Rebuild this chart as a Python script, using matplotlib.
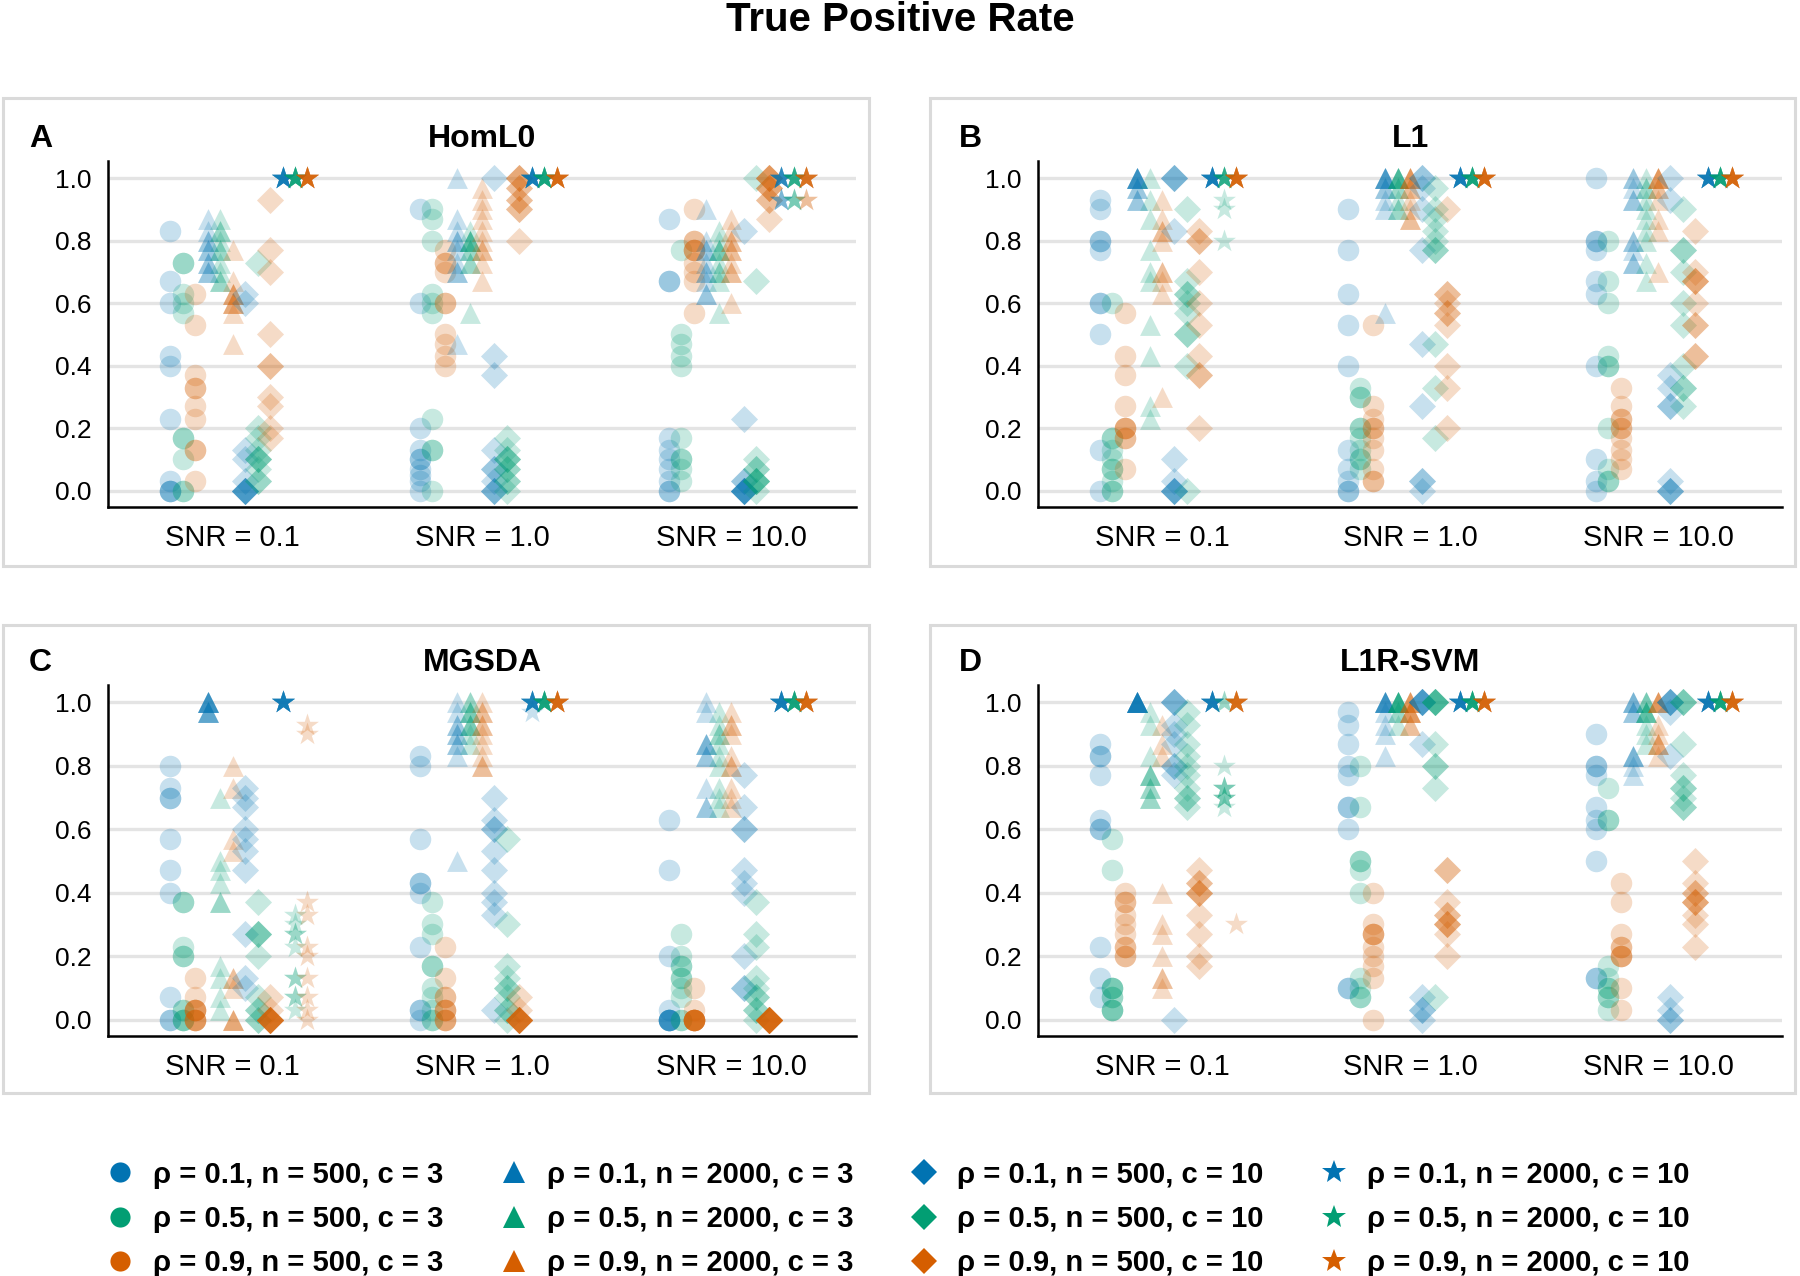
import matplotlib
matplotlib.use('Agg')
import matplotlib.pyplot as plt
from matplotlib.lines import Line2D
from matplotlib.patches import Rectangle

plt.rcParams['font.family'] = ['Liberation Sans', 'DejaVu Sans']

snr_labels = ['SNR = 0.1', 'SNR = 1.0', 'SNR = 10.0']
methods = ['HomL0', 'L1', 'MGSDA', 'L1R-SVM']
panel_letters = ['A', 'B', 'C', 'D']
legend_labels = [
    'ρ = 0.1, n = 500, c = 3', 'ρ = 0.5, n = 500, c = 3', 'ρ = 0.9, n = 500, c = 3',
    'ρ = 0.1, n = 2000, c = 3', 'ρ = 0.5, n = 2000, c = 3', 'ρ = 0.9, n = 2000, c = 3',
    'ρ = 0.1, n = 500, c = 10', 'ρ = 0.5, n = 500, c = 10', 'ρ = 0.9, n = 500, c = 10',
    'ρ = 0.1, n = 2000, c = 10', 'ρ = 0.5, n = 2000, c = 10', 'ρ = 0.9, n = 2000, c = 10',
]

# replicate TPR values per condition, order: circle (b,g,o), triangle, diamond, star
homl0_snr01 = [
    [0.83, 0.67, 0.6, 0.43, 0.4, 0.23, 0.03, 0.0, 0.0, 0.0],
    [0.73, 0.73, 0.63, 0.6, 0.57, 0.17, 0.17, 0.1, 0.0, 0.0],
    [0.63, 0.53, 0.37, 0.33, 0.33, 0.27, 0.23, 0.13, 0.13, 0.03],
    [0.87, 0.83, 0.8, 0.8, 0.77, 0.73, 0.73, 0.7, 0.7, 0.77],
    [0.87, 0.83, 0.83, 0.8, 0.77, 0.77, 0.73, 0.7, 0.67, 0.67],
    [0.77, 0.67, 0.63, 0.63, 0.6, 0.6, 0.57, 0.47, 0.63, 0.6],
    [0.63, 0.6, 0.13, 0.1, 0.03, 0.0, 0.0, 0.0, 0.0, 0.0],
    [0.73, 0.2, 0.17, 0.13, 0.1, 0.1, 0.1, 0.07, 0.03, 0.03],
    [0.93, 0.77, 0.7, 0.5, 0.4, 0.4, 0.3, 0.27, 0.2, 0.17],
    [1.0, 1.0, 1.0, 1.0, 1.0, 1.0, 1.0, 1.0, 1.0, 1.0],
    [1.0, 1.0, 1.0, 1.0, 1.0, 1.0, 1.0, 1.0, 1.0, 1.0],
    [1.0, 1.0, 1.0, 1.0, 1.0, 1.0, 1.0, 1.0, 1.0, 1.0],
]
homl0_snr1 = [
    [0.9, 0.6, 0.2, 0.13, 0.1, 0.1, 0.07, 0.05, 0.03, 0.0],
    [0.9, 0.87, 0.8, 0.63, 0.6, 0.57, 0.23, 0.13, 0.13, 0.0],
    [0.77, 0.73, 0.73, 0.7, 0.6, 0.6, 0.5, 0.47, 0.43, 0.4],
    [1.0, 0.87, 0.83, 0.8, 0.77, 0.73, 0.7, 0.7, 0.47, 0.8],
    [0.83, 0.8, 0.8, 0.8, 0.77, 0.77, 0.73, 0.73, 0.57, 0.8],
    [0.97, 0.93, 0.9, 0.87, 0.83, 0.8, 0.77, 0.77, 0.73, 0.67],
    [1.0, 0.43, 0.37, 0.13, 0.07, 0.03, 0.0, 0.0, 0.0, 0.07],
    [0.17, 0.13, 0.1, 0.1, 0.07, 0.07, 0.03, 0.0, 0.1, 0.03],
    [1.0, 1.0, 0.97, 0.97, 0.93, 0.93, 0.9, 0.9, 0.8, 1.0],
    [1.0, 1.0, 1.0, 1.0, 1.0, 1.0, 1.0, 1.0, 1.0, 1.0],
    [1.0, 1.0, 1.0, 1.0, 1.0, 1.0, 1.0, 1.0, 1.0, 1.0],
    [1.0, 1.0, 1.0, 1.0, 1.0, 1.0, 1.0, 1.0, 1.0, 1.0],
]
homl0_snr10 = [
    [0.87, 0.67, 0.67, 0.17, 0.13, 0.1, 0.07, 0.03, 0.0, 0.0],
    [0.77, 0.5, 0.47, 0.43, 0.4, 0.17, 0.1, 0.1, 0.07, 0.03],
    [0.9, 0.8, 0.77, 0.77, 0.77, 0.7, 0.67, 0.57, 0.8, 0.73],
    [0.9, 0.77, 0.77, 0.73, 0.7, 0.7, 0.67, 0.63, 0.63, 0.8],
    [0.83, 0.8, 0.77, 0.77, 0.73, 0.7, 0.7, 0.67, 0.57, 0.77],
    [0.87, 0.83, 0.8, 0.77, 0.73, 0.7, 0.7, 0.6, 0.8, 0.77],
    [0.83, 0.23, 0.03, 0.0, 0.0, 0.0, 0.0, 0.0, 0.0, 0.03],
    [1.0, 0.67, 0.1, 0.07, 0.03, 0.03, 0.03, 0.03, 0.0, 0.07],
    [1.0, 1.0, 1.0, 0.97, 0.97, 0.93, 0.93, 0.87, 1.0, 0.97],
    [1.0, 1.0, 1.0, 1.0, 1.0, 1.0, 1.0, 0.93, 0.93, 0.93],
    [1.0, 1.0, 1.0, 1.0, 1.0, 1.0, 1.0, 0.93, 0.93, 0.93],
    [1.0, 1.0, 1.0, 1.0, 1.0, 1.0, 1.0, 1.0, 0.93, 0.93],
]

l1_snr01 = [
    [0.93, 0.9, 0.8, 0.8, 0.77, 0.6, 0.6, 0.5, 0.13, 0.0],
    [0.6, 0.17, 0.17, 0.13, 0.1, 0.07, 0.07, 0.03, 0.0, 0.0],
    [0.57, 0.43, 0.37, 0.27, 0.2, 0.2, 0.17, 0.17, 0.07, 0.2],
    [1.0, 1.0, 1.0, 1.0, 1.0, 1.0, 0.97, 0.97, 0.93, 0.93],
    [1.0, 0.93, 0.87, 0.77, 0.7, 0.67, 0.53, 0.43, 0.27, 0.23],
    [0.93, 0.87, 0.83, 0.83, 0.8, 0.7, 0.7, 0.67, 0.63, 0.3],
    [1.0, 1.0, 1.0, 0.83, 0.1, 0.03, 0.0, 0.0, 0.0, 0.0],
    [0.9, 0.67, 0.63, 0.63, 0.57, 0.5, 0.5, 0.4, 0.0, 0.6],
    [0.83, 0.8, 0.7, 0.6, 0.53, 0.43, 0.37, 0.37, 0.2, 0.8],
    [1.0, 1.0, 1.0, 1.0, 1.0, 1.0, 1.0, 1.0, 1.0, 1.0],
    [1.0, 1.0, 1.0, 1.0, 1.0, 1.0, 1.0, 0.93, 0.9, 0.8],
    [1.0, 1.0, 1.0, 1.0, 1.0, 1.0, 1.0, 1.0, 1.0, 1.0],
]
l1_snr1 = [
    [0.9, 0.77, 0.63, 0.53, 0.4, 0.13, 0.07, 0.03, 0.0, 0.0],
    [0.33, 0.3, 0.3, 0.2, 0.17, 0.13, 0.1, 0.1, 0.07, 0.2],
    [0.53, 0.27, 0.23, 0.2, 0.17, 0.13, 0.07, 0.03, 0.03, 0.2],
    [1.0, 1.0, 1.0, 1.0, 1.0, 0.97, 0.97, 0.93, 0.9, 0.57],
    [1.0, 1.0, 1.0, 1.0, 1.0, 0.97, 0.97, 0.93, 0.9, 0.9],
    [1.0, 1.0, 1.0, 1.0, 0.97, 0.93, 0.9, 0.87, 0.87, 0.97],
    [1.0, 1.0, 0.9, 0.77, 0.47, 0.27, 0.03, 0.03, 0.0, 0.97],
    [0.97, 0.87, 0.83, 0.8, 0.77, 0.77, 0.47, 0.33, 0.17, 0.9],
    [0.9, 0.63, 0.63, 0.57, 0.57, 0.53, 0.4, 0.33, 0.2, 0.6],
    [1.0, 1.0, 1.0, 1.0, 1.0, 1.0, 1.0, 1.0, 1.0, 1.0],
    [1.0, 1.0, 1.0, 1.0, 1.0, 1.0, 1.0, 1.0, 1.0, 1.0],
    [1.0, 1.0, 1.0, 1.0, 1.0, 1.0, 1.0, 1.0, 1.0, 1.0],
]
l1_snr10 = [
    [1.0, 0.8, 0.8, 0.77, 0.67, 0.63, 0.4, 0.1, 0.03, 0.0],
    [0.8, 0.67, 0.6, 0.43, 0.4, 0.4, 0.2, 0.07, 0.03, 0.03],
    [0.33, 0.27, 0.23, 0.2, 0.2, 0.17, 0.13, 0.1, 0.07, 0.23],
    [1.0, 1.0, 0.93, 0.93, 0.8, 0.8, 0.77, 0.73, 0.73, 0.97],
    [1.0, 0.97, 0.93, 0.9, 0.87, 0.83, 0.8, 0.73, 0.67, 0.97],
    [1.0, 1.0, 1.0, 0.97, 0.93, 0.87, 0.83, 0.7, 0.97, 1.0],
    [1.0, 0.93, 0.37, 0.33, 0.27, 0.27, 0.03, 0.0, 0.0, 0.0],
    [0.9, 0.77, 0.77, 0.7, 0.6, 0.53, 0.4, 0.33, 0.33, 0.27],
    [0.83, 0.7, 0.67, 0.67, 0.6, 0.53, 0.53, 0.43, 0.43, 0.67],
    [1.0, 1.0, 1.0, 1.0, 1.0, 1.0, 1.0, 1.0, 1.0, 1.0],
    [1.0, 1.0, 1.0, 1.0, 1.0, 1.0, 1.0, 1.0, 1.0, 1.0],
    [1.0, 1.0, 1.0, 1.0, 1.0, 1.0, 1.0, 1.0, 1.0, 1.0],
]

mgsda_snr01 = [
    [0.8, 0.73, 0.7, 0.7, 0.57, 0.47, 0.4, 0.07, 0.0, 0.0],
    [0.37, 0.37, 0.23, 0.2, 0.2, 0.03, 0.03, 0.0, 0.0, 0.0],
    [0.13, 0.07, 0.03, 0.03, 0.03, 0.0, 0.0, 0.0, 0.0, 0.03],
    [1.0, 1.0, 1.0, 1.0, 1.0, 1.0, 0.97, 0.97, 0.97, 0.97],
    [0.7, 0.5, 0.47, 0.43, 0.37, 0.37, 0.17, 0.13, 0.07, 0.03],
    [0.8, 0.73, 0.57, 0.53, 0.13, 0.13, 0.1, 0.0, 0.0, 0.0],
    [0.73, 0.7, 0.67, 0.6, 0.57, 0.53, 0.47, 0.27, 0.13, 0.1],
    [0.37, 0.27, 0.27, 0.2, 0.07, 0.03, 0.03, 0.0, 0.0, 0.27],
    [0.07, 0.03, 0.0, 0.0, 0.0, 0.0, 0.0, 0.0, 0.0, 0.0],
    [1.0, 1.0, 1.0, 1.0, 1.0, 1.0, 1.0, 1.0, 1.0, 1.0],
    [0.3, 0.27, 0.27, 0.23, 0.13, 0.13, 0.07, 0.07, 0.03, 0.33],
    [0.93, 0.9, 0.37, 0.33, 0.23, 0.2, 0.13, 0.07, 0.0, 0.03],
]
mgsda_snr1 = [
    [0.83, 0.8, 0.57, 0.43, 0.43, 0.4, 0.23, 0.03, 0.03, 0.0],
    [0.37, 0.3, 0.27, 0.17, 0.17, 0.1, 0.07, 0.03, 0.0, 0.0],
    [0.23, 0.13, 0.07, 0.07, 0.03, 0.03, 0.03, 0.0, 0.0, 0.0],
    [1.0, 0.97, 0.93, 0.9, 0.9, 0.87, 0.87, 0.83, 0.5, 0.93],
    [1.0, 0.97, 0.97, 0.93, 0.93, 0.9, 0.87, 0.97, 1.0, 0.93],
    [1.0, 0.97, 0.93, 0.93, 0.87, 0.83, 0.8, 0.8, 0.97, 0.9],
    [0.7, 0.63, 0.6, 0.6, 0.53, 0.47, 0.4, 0.37, 0.33, 0.03],
    [0.57, 0.3, 0.17, 0.13, 0.1, 0.1, 0.03, 0.03, 0.07, 0.0],
    [0.07, 0.03, 0.0, 0.0, 0.0, 0.0, 0.0, 0.0, 0.0, 0.0],
    [1.0, 1.0, 1.0, 1.0, 1.0, 1.0, 1.0, 1.0, 1.0, 0.97],
    [1.0, 1.0, 1.0, 1.0, 1.0, 1.0, 1.0, 1.0, 1.0, 1.0],
    [1.0, 1.0, 1.0, 1.0, 1.0, 1.0, 1.0, 1.0, 1.0, 1.0],
]
mgsda_snr10 = [
    [0.63, 0.47, 0.2, 0.03, 0.0, 0.0, 0.0, 0.0, 0.0, 0.0],
    [0.27, 0.2, 0.17, 0.17, 0.13, 0.1, 0.07, 0.0, 0.0, 0.13],
    [0.1, 0.03, 0.0, 0.0, 0.0, 0.0, 0.0, 0.0, 0.0, 0.0],
    [1.0, 0.97, 0.87, 0.87, 0.83, 0.83, 0.73, 0.67, 0.87, 0.67],
    [0.93, 0.9, 0.9, 0.87, 0.83, 0.8, 0.7, 0.67, 0.73, 0.97],
    [0.97, 0.93, 0.93, 0.83, 0.8, 0.8, 0.73, 0.7, 0.67, 0.9],
    [0.77, 0.67, 0.6, 0.6, 0.47, 0.43, 0.4, 0.2, 0.1, 0.1],
    [0.37, 0.27, 0.23, 0.13, 0.1, 0.07, 0.03, 0.03, 0.0, 0.07],
    [0.0, 0.0, 0.0, 0.0, 0.0, 0.0, 0.0, 0.0, 0.0, 0.0],
    [1.0, 1.0, 1.0, 1.0, 1.0, 1.0, 1.0, 1.0, 1.0, 1.0],
    [1.0, 1.0, 1.0, 1.0, 1.0, 1.0, 1.0, 1.0, 1.0, 1.0],
    [1.0, 1.0, 1.0, 1.0, 1.0, 1.0, 1.0, 1.0, 1.0, 1.0],
]

svm_snr01 = [
    [0.87, 0.83, 0.83, 0.77, 0.63, 0.6, 0.6, 0.23, 0.13, 0.07],
    [0.57, 0.47, 0.1, 0.1, 0.07, 0.03, 0.03, 0.03, 0.07, 0.1],
    [0.4, 0.37, 0.37, 0.33, 0.3, 0.23, 0.23, 0.2, 0.2, 0.27],
    [1.0, 1.0, 1.0, 1.0, 1.0, 1.0, 1.0, 1.0, 1.0, 1.0],
    [0.97, 0.93, 0.83, 0.77, 0.77, 0.73, 0.73, 0.7, 0.7, 0.77],
    [0.93, 0.87, 0.83, 0.4, 0.3, 0.27, 0.2, 0.13, 0.13, 0.1],
    [1.0, 1.0, 1.0, 0.93, 0.9, 0.8, 0.8, 0.77, 0.0, 0.87],
    [0.97, 0.93, 0.87, 0.83, 0.77, 0.73, 0.7, 0.7, 0.67, 0.8],
    [0.47, 0.43, 0.4, 0.4, 0.4, 0.33, 0.27, 0.2, 0.17, 0.43],
    [1.0, 1.0, 1.0, 1.0, 1.0, 1.0, 1.0, 1.0, 1.0, 1.0],
    [1.0, 1.0, 0.8, 0.73, 0.73, 0.7, 0.7, 0.7, 0.67, 0.73],
    [1.0, 1.0, 1.0, 1.0, 1.0, 1.0, 1.0, 1.0, 1.0, 0.3],
]
svm_snr1 = [
    [0.97, 0.93, 0.87, 0.8, 0.77, 0.67, 0.67, 0.6, 0.1, 0.1],
    [0.8, 0.67, 0.5, 0.5, 0.47, 0.4, 0.13, 0.07, 0.07, 0.1],
    [0.4, 0.3, 0.27, 0.27, 0.23, 0.2, 0.17, 0.13, 0.0, 0.27],
    [1.0, 1.0, 1.0, 1.0, 1.0, 1.0, 0.93, 0.9, 0.83, 0.97],
    [1.0, 1.0, 1.0, 1.0, 1.0, 1.0, 1.0, 0.97, 0.93, 0.97],
    [1.0, 1.0, 1.0, 0.97, 0.97, 0.97, 0.93, 0.93, 1.0, 0.97],
    [1.0, 1.0, 1.0, 1.0, 1.0, 0.87, 0.07, 0.03, 0.03, 0.0],
    [1.0, 1.0, 1.0, 1.0, 0.87, 0.8, 0.8, 0.73, 0.07, 1.0],
    [0.47, 0.47, 0.37, 0.33, 0.33, 0.3, 0.3, 0.27, 0.2, 0.3],
    [1.0, 1.0, 1.0, 1.0, 1.0, 1.0, 1.0, 1.0, 1.0, 1.0],
    [1.0, 1.0, 1.0, 1.0, 1.0, 1.0, 1.0, 1.0, 1.0, 1.0],
    [1.0, 1.0, 1.0, 1.0, 1.0, 1.0, 1.0, 1.0, 1.0, 1.0],
]
svm_snr10 = [
    [0.9, 0.8, 0.8, 0.77, 0.67, 0.63, 0.6, 0.5, 0.13, 0.13],
    [0.73, 0.63, 0.63, 0.17, 0.13, 0.1, 0.07, 0.07, 0.03, 0.1],
    [0.43, 0.37, 0.27, 0.23, 0.2, 0.2, 0.2, 0.1, 0.03, 0.23],
    [1.0, 1.0, 0.97, 0.97, 0.83, 0.83, 0.8, 0.77, 1.0, 0.83],
    [1.0, 1.0, 0.97, 0.97, 0.97, 0.9, 0.87, 0.93, 1.0, 0.97],
    [1.0, 1.0, 1.0, 0.9, 0.87, 0.87, 0.83, 0.93, 1.0, 0.87],
    [1.0, 1.0, 1.0, 0.97, 0.83, 0.07, 0.03, 0.0, 0.0, 1.0],
    [1.0, 1.0, 1.0, 0.87, 0.77, 0.73, 0.7, 0.67, 0.67, 0.73],
    [0.5, 0.43, 0.4, 0.4, 0.37, 0.37, 0.33, 0.3, 0.23, 0.37],
    [1.0, 1.0, 1.0, 1.0, 1.0, 1.0, 1.0, 1.0, 1.0, 1.0],
    [1.0, 1.0, 1.0, 1.0, 1.0, 1.0, 1.0, 1.0, 1.0, 1.0],
    [1.0, 1.0, 1.0, 1.0, 1.0, 1.0, 1.0, 1.0, 1.0, 1.0],
]

panel_data = [
    [homl0_snr01, homl0_snr1, homl0_snr10],
    [l1_snr01, l1_snr1, l1_snr10],
    [mgsda_snr01, mgsda_snr1, mgsda_snr10],
    [svm_snr01, svm_snr1, svm_snr10],
]

colors = ['#0173B2', '#029E73', '#D55E00']
markers = ['o', '^', 'D', '*']
sizes = [240, 225, 190, 300]
legend_sizes = [14.5, 15.5, 13, 18]

W, H = 1800, 1276
fig = plt.figure(figsize=(W / 100, H / 100), dpi=100)

# axes boxes in pixels: left, top, right, bottom
axes_px = [(108, 161, 856, 507), (1038, 161, 1782, 507),
           (108, 685, 856, 1036), (1038, 685, 1782, 1036)]
frames_px = [(3, 98, 869, 566), (930, 98, 1795, 566),
             (3, 625, 869, 1093), (930, 625, 1795, 1093)]

for (x0, y0, x1, y1) in frames_px:
    fig.add_artist(Rectangle((x0 / W, 1 - y1 / H), (x1 - x0) / W, (y1 - y0) / H,
                             transform=fig.transFigure, fill=False,
                             edgecolor='#dadada', linewidth=2.2))

for p, (l, t, r, b) in enumerate(axes_px):
    ax = fig.add_axes([l / W, 1 - b / H, (r - l) / W, (b - t) / H])
    for g, groups in enumerate(panel_data[p]):
        for k, vals in enumerate(groups):
            x = g - 0.25 + 0.05 * k
            ax.scatter([x] * len(vals), vals, marker=markers[k // 3],
                       color=colors[k % 3], s=sizes[k // 3], alpha=0.22,
                       linewidths=0, zorder=3)
    ax.set_xlim(-0.5, 2.5)
    ax.set_ylim(-0.052, 1.055)
    ax.set_xticks([0, 1, 2])
    ax.set_xticklabels(snr_labels, fontsize=21)
    ax.set_yticks([0, 0.2, 0.4, 0.6, 0.8, 1.0])
    ax.set_yticklabels(['0.0', '0.2', '0.4', '0.6', '0.8', '1.0'], fontsize=19)
    ax.tick_params(axis='both', length=0)
    ax.tick_params(axis='y', pad=12)
    ax.tick_params(axis='x', pad=12)
    ax.yaxis.grid(True, color='#e4e4e4', linewidth=2.4)
    ax.set_axisbelow(True)
    for side in ['top', 'right']:
        ax.spines[side].set_visible(False)
    for side in ['left', 'bottom']:
        ax.spines[side].set_linewidth(1.8)
    ax.text(0.5, 1.04, methods[p], transform=ax.transAxes, ha='center',
            va='baseline', fontsize=23, fontweight='bold')
    ax.text(-0.106, 1.04, panel_letters[p], transform=ax.transAxes, ha='left',
            va='baseline', fontsize=23, fontweight='bold')

fig.text(0.5, 1 - 31 / H, 'True Positive Rate', ha='center', va='baseline',
         fontsize=29, fontweight='bold')

handles = []
for k in range(12):
    handles.append(Line2D([], [], linestyle='none', marker=markers[k // 3],
                          color=colors[k % 3], markersize=legend_sizes[k // 3],
                          markeredgewidth=0))
fig.legend(handles, legend_labels, ncol=4, loc='center left',
           bbox_to_anchor=(105 / W, 1 - 1219 / H), frameon=False,
           prop={'weight': 'bold', 'size': 21}, handlelength=1.0,
           handletextpad=0.65, columnspacing=1.9, labelspacing=0.56,
           borderpad=0, borderaxespad=0)

fig.savefig('out.png', dpi=100)
